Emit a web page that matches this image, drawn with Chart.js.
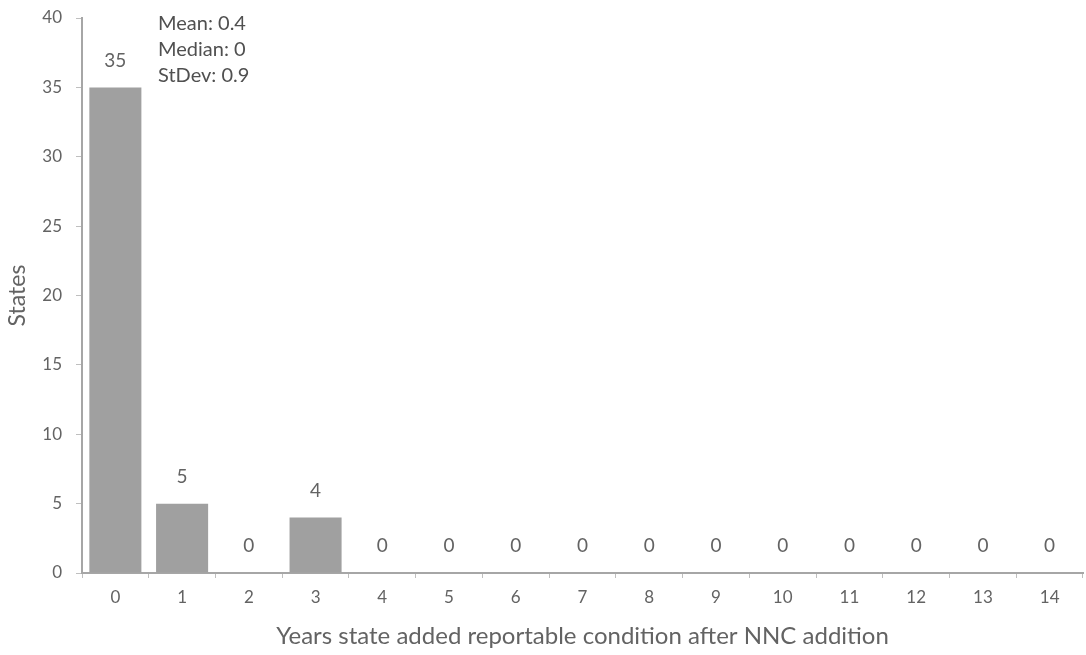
<!DOCTYPE html>
<html>
<head>
<meta charset="utf-8">
<script src="https://cdn.jsdelivr.net/npm/chart.js@4"></script>
<style>
  html,body{margin:0;padding:0;background:#fff;}
  #wrap{width:1086px;height:655px;position:relative;}
</style>
</head>
<body>
<div id="wrap"><canvas id="c" width="1086" height="655"></canvas></div>
<script>
// datos
const years = ['0','1','2','3','4','5','6','7','8','9','10','11','12','13','14'];
const states = [35,5,0,4,0,0,0,0,0,0,0,0,0,0,0];
const statsLines = ['Mean: 0.4','Median: 0','StDev: 0.9'];
const xTitle = 'Years state added reportable condition after NNC addition';
const yTitle = 'States';

const FONT = 'Lato, "Open Sans", sans-serif';
const TXT = '#636363';

// etiquetas encima de cada barra + cuadro de estadísticas
const barLabels = {
  id:'barLabels',
  afterDatasetsDraw(chart){
    const ctx=chart.ctx, meta=chart.getDatasetMeta(0);
    ctx.save();
    ctx.font='19px '+FONT; ctx.fillStyle=TXT; ctx.textAlign='center'; ctx.textBaseline='middle';
    meta.data.forEach((b,i)=>{ ctx.fillText(String(states[i]), b.x, b.y-27); });
    ctx.textAlign='left';
    ctx.font='20px '+FONT; ctx.fillStyle='#505050';
    statsLines.forEach((s,i)=>ctx.fillText(s, 158, 24+i*26));
    ctx.restore();
  }
};

new Chart(document.getElementById('c'),{
  type:'bar',
  data:{labels:years,datasets:[{data:states,backgroundColor:'#a0a0a0',borderWidth:0,barPercentage:0.78,categoryPercentage:1}]},
  options:{
    responsive:false,animation:false,
    layout:{padding:{top:18,right:3,left:0,bottom:0}},
    plugins:{legend:{display:false},tooltip:{enabled:false}},
    scales:{
      x:{
        grid:{drawOnChartArea:false,color:'#bfbfbf',tickLength:5,offset:true},
        border:{color:'#a6a6a6',width:2},
        ticks:{color:TXT,font:{family:FONT,size:17},padding:9,maxRotation:0},
        title:{display:true,text:xTitle,color:TXT,font:{family:FONT,size:24},padding:{top:4}},
        afterFit(s){s.height=82;s.paddingLeft=0;s.paddingRight=0;}
      },
      y:{
        min:0,max:40,
        grid:{drawOnChartArea:false,color:'#bfbfbf',tickLength:6},
        border:{color:'#a6a6a6',width:2},
        ticks:{stepSize:5,color:TXT,font:{family:FONT,size:17},padding:14},
        title:{display:true,text:yTitle,color:TXT,font:{family:FONT,size:23},padding:{bottom:0}},
        afterFit(s){s.width=82;s.paddingTop=0;s.paddingBottom=0;}
      }
    }
  },
  plugins:[barLabels]
});
</script>
</body>
</html>
